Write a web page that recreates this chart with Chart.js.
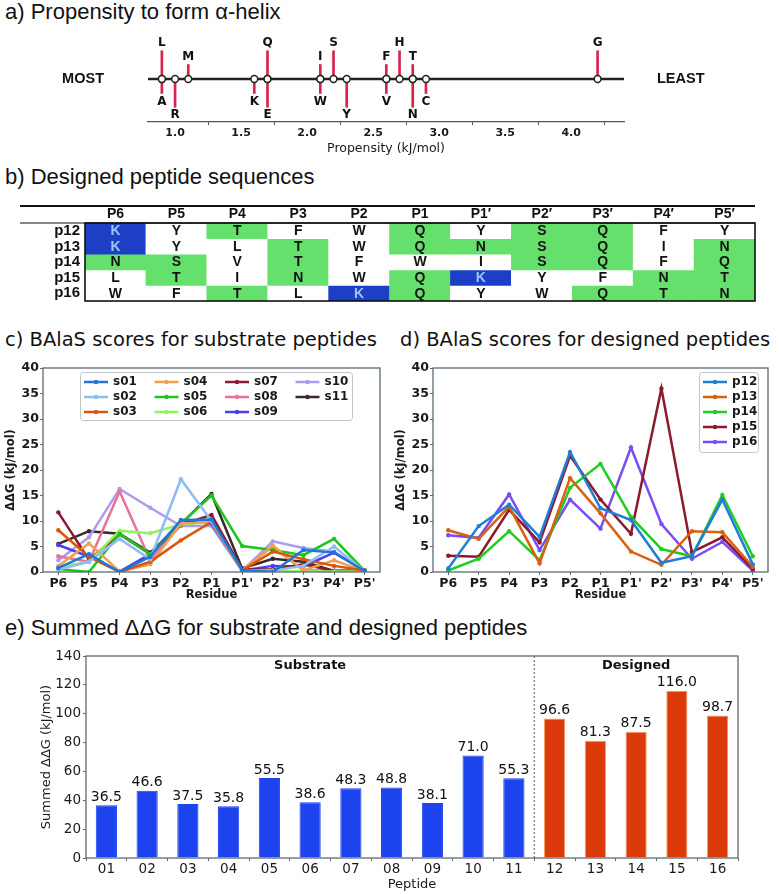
<!DOCTYPE html>
<html>
<head>
<meta charset="utf-8">
<script src="https://cdn.jsdelivr.net/npm/chart.js@4.4.1/dist/chart.umd.min.js"></script>
<style>
  html, body { margin: 0; padding: 0; background: #fff; overflow: hidden; }
  #page { position: relative; width: 779px; height: 894px; }
  .panel-title { position: absolute; left: 5px; white-space: nowrap; color: #111; line-height: 1; }
  .sans { font-family: 'Liberation Sans', Arial, sans-serif; font-size: 22px; }
  .mpl { font-family: 'DejaVu Sans', sans-serif; font-size: 19.5px; }
  canvas { position: absolute; }
</style>
</head>
<body>
<div id="page">
  <div class="panel-title sans" style="top:1px">a) Propensity to form α-helix</div>
  <canvas id="propensityChart" width="779" height="128" style="left:0;top:30px"></canvas>

  <div class="panel-title sans" style="top:166px">b) Designed peptide sequences</div>
  <canvas id="sequenceTable" width="779" height="115" style="left:0;top:200px"></canvas>

  <div class="panel-title mpl" style="top:330px">c) BAlaS scores for substrate peptides</div>
  <div class="panel-title mpl" style="top:330px;left:400px">d) BAlaS scores for designed peptides</div>
  <canvas id="substrateChart" width="390" height="250" style="left:0;top:355px"></canvas>
  <canvas id="designedChart" width="389" height="250" style="left:390px;top:355px"></canvas>

  <div class="panel-title sans" style="top:617px">e) Summed ΔΔG for substrate and designed peptides</div>
  <canvas id="summedChart" width="779" height="249" style="left:0;top:645px"></canvas>
</div>

<script>
// a) helix propensity
const residues = ['L', 'A', 'R', 'M', 'K', 'Q', 'E', 'I', 'W', 'S', 'Y', 'F', 'V', 'H', 'T', 'N', 'C', 'G'];
const propensity = [0.9, 0.9, 1.0, 1.1, 1.6, 1.7, 1.7, 2.1, 2.1, 2.2, 2.3, 2.6, 2.6, 2.7, 2.8, 2.8, 2.9, 4.2];
// which side / how far the label sits (+ above, - below; 2 = long stem)
const labelLevel = [2, -1, -2, 1, -1, 2, -2, 1, -1, 2, -2, 1, -1, 2, 1, -2, -1, 2];

// b) designed sequences
const positions = ['P6', 'P5', 'P4', 'P3', 'P2', 'P1', 'P1′', 'P2′', 'P3′', 'P4′', 'P5′'];
const designedIds = ['p12', 'p13', 'p14', 'p15', 'p16'];
const sequences = ['KYTFWQYSQFY', 'KYLTWQNSQIN', 'NSVTFWISQFQ', 'LTINWQKYFNT', 'WFTLKQYWQTN'];

// c) / d) BAlaS scores per residue
const residueLabels = ["P6", "P5", "P4", "P3", "P2", "P1", "P1'", "P2'", "P3'", "P4'", "P5'"];
const s01 = [0.8, 3.5, 0.0, 3.0, 10.2, 10.3, 0.4, 0.0, 4.3, 3.8, 0.2];
const s02 = [0.5, 2.0, 6.5, 2.5, 18.2, 10.0, 0.3, 0.3, 1.2, 5.0, 0.1];
const s03 = [8.2, 3.0, 0.0, 2.0, 6.2, 9.8, 0.3, 4.0, 2.5, 1.2, 0.3];
const s04 = [1.2, 5.6, 0.1, 1.5, 9.5, 9.8, 0.2, 5.2, 0.3, 2.3, 0.1];
const s05 = [0.6, 0.0, 7.5, 3.5, 9.5, 15.0, 5.1, 4.3, 3.3, 6.5, 0.2];
const s06 = [1.0, 2.0, 8.1, 7.6, 9.3, 9.8, 0.3, 0.2, 0.1, 0.1, 0.1];
const s07 = [11.7, 2.4, 7.4, 3.5, 9.2, 11.2, 0.5, 0.5, 1.5, 0.2, 0.2];
const s08 = [3.1, 2.0, 15.8, 2.3, 9.3, 10.0, 0.4, 5.0, 0.3, 0.3, 0.3];
const s09 = [5.3, 3.0, 0.1, 3.5, 10.0, 9.5, 0.3, 1.2, 1.1, 3.8, 0.3];
const s10 = [2.3, 6.8, 16.3, 12.6, 9.0, 9.0, 0.2, 6.0, 4.7, 4.0, 0.1];
const s11 = [5.5, 8.0, 7.5, 3.8, 9.4, 15.3, 0.7, 2.6, 2.0, 0.2, 0.3];

const p12 = [0.7, 9.0, 13.2, 6.9, 23.5, 12.5, 10.2, 1.8, 3.1, 14.2, 1.5];
const p13 = [8.2, 6.5, 12.8, 1.7, 18.4, 11.5, 4.0, 1.4, 8.0, 7.8, 1.0];
const p14 = [0.3, 2.6, 8.0, 2.3, 16.5, 21.2, 10.8, 4.5, 3.1, 15.1, 3.1];
const p15 = [3.2, 3.0, 12.2, 5.8, 22.8, 14.2, 7.5, 36.0, 3.9, 6.8, 0.6];
const p16 = [7.2, 6.7, 15.2, 4.3, 14.2, 8.5, 24.4, 9.4, 2.6, 5.9, 0.3];

// e) summed ddG
const substrateIds = ['01', '02', '03', '04', '05', '06', '07', '08', '09', '10', '11'];
const designedNums = ['12', '13', '14', '15', '16'];
const summedSubstrate = [36.5, 46.6, 37.5, 35.8, 55.5, 38.6, 48.3, 48.8, 38.1, 71.0, 55.3];
const summedDesigned = [96.6, 81.3, 87.5, 116.0, 98.7];

Chart.defaults.font.family = "'DejaVu Sans', sans-serif";
Chart.defaults.color = '#1a1a1a';

const AXIS_GREY = '#5f6b75';
const STEM_RED = '#d8234c';

/* stroke the whole plot box, matplotlib style */
const framePlugin = {
  id: 'frame',
  afterDraw(chart, args, opts) {
    if (!opts || !opts.color) return;
    const { ctx, chartArea: a } = chart;
    ctx.save();
    ctx.strokeStyle = opts.color;
    ctx.lineWidth = opts.width || 1;
    ctx.strokeRect(a.left, a.top, a.right - a.left, a.bottom - a.top);
    ctx.restore();
  },
};

/* legend inside the axes, filled column by column */
const boxLegendPlugin = {
  id: 'boxLegend',
  afterDraw(chart, args, o) {
    if (!o || !o.rows) return;
    const { ctx, chartArea: a } = chart;
    const x0 = o.anchor === 'right' ? a.right - o.inset - o.width : a.left + o.inset;
    const y0 = a.top + 4;
    ctx.save();
    ctx.fillStyle = 'rgba(255,255,255,0.85)';
    ctx.strokeStyle = '#c4c4c4';
    ctx.lineWidth = 1;
    ctx.beginPath();
    ctx.roundRect(x0 + 0.5, y0 + 0.5, o.width, o.height, 3);
    ctx.fill();
    ctx.stroke();
    ctx.font = "bold 12px 'DejaVu Sans'";
    ctx.textBaseline = 'middle';
    chart.data.datasets.forEach((ds, i) => {
      const col = Math.floor(i / o.rows);
      const row = i % o.rows;
      const sx = x0 + 4 + col * o.colWidth;
      const sy = y0 + 10 + row * 15;
      ctx.strokeStyle = ds.borderColor;
      ctx.lineWidth = 2.5;
      ctx.beginPath();
      ctx.moveTo(sx, sy);
      ctx.lineTo(sx + 24, sy);
      ctx.stroke();
      ctx.fillStyle = ds.borderColor;
      ctx.beginPath();
      ctx.arc(sx + 12, sy, 2.2, 0, Math.PI * 2);
      ctx.fill();
      ctx.fillStyle = '#1a1a1a';
      ctx.fillText(ds.label, sx + 29, sy);
    });
    ctx.restore();
  },
};

Chart.register(framePlugin, boxLegendPlugin);

/* ---------- a) propensity number line ---------- */
const stemHeight = (lvl) => Math.sign(lvl) * (Math.abs(lvl) === 2 ? 1.95 : 1);

const propensityDecor = {
  id: 'propensityDecor',
  beforeDatasetsDraw(chart) {
    const { ctx, chartArea: a, scales: { y } } = chart;
    const y0 = y.getPixelForValue(0);
    ctx.save();
    ctx.strokeStyle = '#222';
    ctx.lineWidth = 2.4;
    ctx.beginPath();
    ctx.moveTo(a.left, y0);
    ctx.lineTo(a.right, y0);
    ctx.stroke();
    ctx.restore();
  },
  afterDatasetsDraw(chart) {
    const { ctx, chartArea: a, scales: { x, y } } = chart;
    ctx.save();
    ctx.fillStyle = '#111';
    ctx.textAlign = 'center';
    ctx.textBaseline = 'middle';
    ctx.font = "bold 12px 'DejaVu Sans'";
    residues.forEach((r, i) => {
      const h = stemHeight(labelLevel[i]);
      const px = x.getPixelForValue(propensity[i]);
      const py = y.getPixelForValue(h) + (h > 0 ? -8 : 8);
      ctx.fillText(r, px, py);
    });
    const y0 = y.getPixelForValue(0);
    ctx.font = "bold 14.5px 'Liberation Sans'";
    ctx.textAlign = 'right';
    ctx.fillText('MOST', a.left - 44, y0);
    ctx.textAlign = 'left';
    ctx.fillText('LEAST', a.right + 33, y0);
    ctx.restore();
  },
};

new Chart(document.getElementById('propensityChart'), {
  type: 'bar',
  data: {
    datasets: [
      {
        type: 'line',
        data: propensity.map((v) => ({ x: v, y: 0 })),
        showLine: false,
        pointRadius: 3.4,
        pointBackgroundColor: '#fff',
        pointBorderColor: '#222',
        pointBorderWidth: 1.5,
        order: 0,
      },
      {
        type: 'bar',
        data: propensity.map((v, i) => ({ x: v, y: [0, stemHeight(labelLevel[i])] })),
        backgroundColor: STEM_RED,
        barThickness: 2,
        order: 1,
      },
    ],
  },
  options: {
    responsive: false,
    animation: false,
    events: [],
    layout: { padding: { left: 148, right: 155, top: 6, bottom: 0 } },
    scales: {
      x: {
        type: 'linear',
        min: 0.795,
        max: 4.4,
        offset: false,
        afterFit: (s) => { s.height = 36; },
        grid: { drawOnChartArea: false, tickLength: 3, color: '#555' },
        border: { color: '#555', width: 1.2 },
        ticks: {
          stepSize: 0.5,
          includeBounds: false,
          padding: 2,
          color: '#1a1a1a',
          font: { size: 11, weight: 'bold' },
          callback: (v) => Number(v).toFixed(1),
        },
        title: {
          display: true,
          text: 'Propensity (kJ/mol)',
          color: '#1a1a1a',
          font: { size: 12.5 },
          padding: { top: 0, bottom: 2 },
        },
      },
      y: { display: false, min: -2.97, max: 2.97 },
    },
    plugins: { legend: { display: false }, tooltip: { enabled: false } },
  },
  plugins: [propensityDecor],
});

/* ---------- b) sequence table ---------- */
const cellColour = (aa) => (aa === 'K' ? '#1d3fc6' : 'STNQ'.includes(aa) ? '#66e06c' : '#ffffff');

const tableRules = {
  id: 'tableRules',
  afterDraw(chart) {
    const { ctx, chartArea: a, scales: { x } } = chart;
    ctx.save();
    ctx.strokeStyle = '#111';
    ctx.lineWidth = 2;
    ctx.beginPath();
    ctx.moveTo(20, x.top);
    ctx.lineTo(a.right, x.top);
    ctx.stroke();
    ctx.lineWidth = 1;
    ctx.beginPath();
    ctx.moveTo(20, a.top);
    ctx.lineTo(a.right, a.top);
    ctx.stroke();
    ctx.lineWidth = 1.6;
    ctx.strokeRect(a.left, a.top, a.right - a.left, a.bottom - a.top);

    ctx.textAlign = 'center';
    ctx.textBaseline = 'middle';
    ctx.font = "bold 14px 'Liberation Sans'";
    sequences.forEach((seq, r) => {
      chart.getDatasetMeta(r).data.forEach((el, j) => {
        const aa = seq[j];
        ctx.fillStyle = aa === 'K' ? '#9cc4ff' : '#111';
        ctx.fillText(aa, el.x, (el.y + el.base) / 2 + 0.5);
      });
    });
    ctx.restore();
  },
};

new Chart(document.getElementById('sequenceTable'), {
  type: 'bar',
  data: {
    labels: positions,
    datasets: sequences.map((seq, r) => ({
      label: designedIds[r],
      data: positions.map(() => [r, r + 1]),
      backgroundColor: seq.split('').map(cellColour),
      grouped: false,
      barPercentage: 1,
      categoryPercentage: 1,
      borderWidth: 0,
    })),
  },
  options: {
    responsive: false,
    animation: false,
    events: [],
    layout: { padding: { left: 0, right: 24, top: 6, bottom: 7 } },
    scales: {
      x: {
        position: 'top',
        afterFit: (s) => { s.height = 17; },
        grid: { display: false, drawTicks: false },
        border: { display: false },
        ticks: {
          padding: 0,
          autoSkip: false,
          maxRotation: 0,
          color: '#111',
          font: { family: "'Liberation Sans'", size: 14, weight: 'bold' },
        },
      },
      y: {
        min: 0,
        max: 5,
        reverse: true,
        afterFit: (s) => { s.width = 85; },
        afterBuildTicks: (s) => { s.ticks = designedIds.map((id, i) => ({ value: i + 0.5 })); },
        grid: { display: false, drawTicks: false },
        border: { display: false },
        ticks: {
          padding: 5,
          autoSkip: false,
          color: '#111',
          font: { family: "'Liberation Sans'", size: 15, weight: 'bold' },
          callback: (v, i) => designedIds[i],
        },
      },
    },
    plugins: { legend: { display: false }, tooltip: { enabled: false } },
  },
  plugins: [tableRules],
});

/* ---------- c) and d) BAlaS line plots ---------- */
function lineSet(label, data, color) {
  return {
    label,
    data,
    borderColor: color,
    backgroundColor: color,
    borderWidth: 2.5,
    pointRadius: 2.2,
    pointBorderWidth: 0,
    tension: 0,
  };
}

function scoreOptions(rightPad, legendLayout) {
  return {
    responsive: false,
    animation: false,
    events: [],
    layout: { padding: { left: 0, right: rightPad, top: 13, bottom: 0 } },
    scales: {
      x: {
        offset: true,
        afterFit: (s) => { s.height = 33; },
        grid: { drawOnChartArea: false, tickLength: 3, color: AXIS_GREY },
        border: { display: false },
        ticks: { padding: 1, autoSkip: false, maxRotation: 0, font: { size: 12.5, weight: 'bold' } },
        title: {
          display: true,
          text: 'Residue',
          font: { size: 11.5, weight: 'bold' },
          padding: { top: 0, bottom: 3 },
        },
      },
      y: {
        min: 0,
        max: 40,
        afterFit: (s) => { s.width = 43; },
        grid: { drawOnChartArea: false, tickLength: 3, color: AXIS_GREY },
        border: { display: false },
        ticks: { stepSize: 5, padding: 1, font: { size: 12.5, weight: 'bold' } },
        title: {
          display: true,
          text: 'ΔΔG (kJ/mol)',
          font: { size: 11.5, weight: 'bold' },
          padding: { top: 4, bottom: 0 },
        },
      },
    },
    plugins: {
      legend: { display: false },
      tooltip: { enabled: false },
      frame: { color: AXIS_GREY, width: 1.3 },
      boxLegend: legendLayout,
    },
  };
}

new Chart(document.getElementById('substrateChart'), {
  type: 'line',
  data: {
    labels: residueLabels,
    datasets: [
      lineSet('s01', s01, '#1f77d4'),
      lineSet('s02', s02, '#8fbcf3'),
      lineSet('s03', s03, '#d9560f'),
      lineSet('s04', s04, '#f0a050'),
      lineSet('s05', s05, '#1fc41f'),
      lineSet('s06', s06, '#8cf55a'),
      lineSet('s07', s07, '#8b1a2e'),
      lineSet('s08', s08, '#e8729a'),
      lineSet('s09', s09, '#4a3cf2'),
      lineSet('s10', s10, '#ab9cf0'),
      lineSet('s11', s11, '#3b2828'),
    ],
  },
  options: scoreOptions(10, { rows: 3, anchor: 'left', inset: 37, width: 272, height: 48, colWidth: 70.5 }),
});

new Chart(document.getElementById('designedChart'), {
  type: 'line',
  data: {
    labels: residueLabels,
    datasets: [
      lineSet('p12', p12, '#1f7fd4'),
      lineSet('p13', p13, '#d9600f'),
      lineSet('p14', p14, '#22cc22'),
      lineSet('p15', p15, '#8b1a2e'),
      lineSet('p16', p16, '#7a4cf5'),
    ],
  },
  options: scoreOptions(11, { rows: 5, anchor: 'right', inset: 10, width: 59, height: 80, colWidth: 0 }),
});

/* ---------- e) summed bars ---------- */
const SUB_BLUE = '#1d43ef';
const DES_RED = '#dd3a0b';

const summedDecor = {
  id: 'summedDecor',
  afterDatasetsDraw(chart) {
    const { ctx, chartArea: a, scales: { x } } = chart;
    const split = (x.getPixelForValue(substrateIds.length - 1) + x.getPixelForValue(substrateIds.length)) / 2;
    ctx.save();
    ctx.strokeStyle = '#555';
    ctx.lineWidth = 1;
    ctx.setLineDash([2, 2]);
    ctx.beginPath();
    ctx.moveTo(split, a.top);
    ctx.lineTo(split, a.bottom);
    ctx.stroke();
    ctx.setLineDash([]);

    ctx.fillStyle = '#111';
    ctx.textAlign = 'center';
    ctx.textBaseline = 'middle';
    ctx.font = "bold 13px 'DejaVu Sans'";
    ctx.fillText('Substrate', (a.left + split) / 2, a.top + 10);
    ctx.fillText('Designed', (split + a.right) / 2, a.top + 10);

    ctx.font = "14px 'DejaVu Sans'";
    ctx.textBaseline = 'bottom';
    const values = chart.data.datasets[0].data;
    chart.getDatasetMeta(0).data.forEach((bar, i) => {
      ctx.fillText(values[i].toFixed(1), bar.x, bar.y - 1);
    });
    ctx.restore();
  },
};

new Chart(document.getElementById('summedChart'), {
  type: 'bar',
  data: {
    labels: substrateIds.concat(designedNums),
    datasets: [
      {
        data: summedSubstrate.concat(summedDesigned),
        backgroundColor: (c) => (c.dataIndex < substrateIds.length ? SUB_BLUE : DES_RED),
        borderColor: (c) => (c.dataIndex < substrateIds.length ? SUB_BLUE : '#f39a5a'),
        borderWidth: 1,
        barPercentage: 0.52,
        categoryPercentage: 1,
      },
    ],
  },
  options: {
    responsive: false,
    animation: false,
    events: [],
    layout: { padding: { left: 0, right: 41, top: 11, bottom: 0 } },
    scales: {
      x: {
        afterFit: (s) => { s.height = 36; },
        grid: { drawOnChartArea: false, tickLength: 3, color: AXIS_GREY },
        border: { display: false },
        ticks: { padding: 0, font: { size: 13.5 } },
        title: { display: true, text: 'Peptide', font: { size: 13 }, padding: { top: 0, bottom: 2 } },
      },
      y: {
        min: 0,
        max: 140,
        afterFit: (s) => { s.width = 86; },
        grid: { drawOnChartArea: false, tickLength: 3, color: AXIS_GREY },
        border: { display: false },
        ticks: { stepSize: 20, padding: 2, font: { size: 13.5 } },
        title: { display: true, text: 'Summed ΔΔG (kJ/mol)', font: { size: 13 }, padding: { top: 39, bottom: 0 } },
      },
    },
    plugins: {
      legend: { display: false },
      tooltip: { enabled: false },
      frame: { color: AXIS_GREY, width: 1.3 },
    },
  },
  plugins: [summedDecor],
});
</script>
</body>
</html>
